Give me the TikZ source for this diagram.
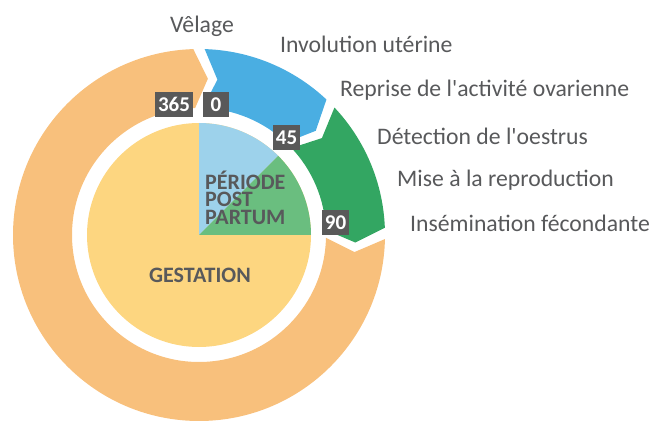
\documentclass[tikz,border=0pt]{standalone}
\usepackage{fontspec}
\setmainfont{Carlito}[Ligatures=TeXOff]
\definecolor{ringorange}{HTML}{F8C07C}
\definecolor{ringblue}{HTML}{4AAEE2}
\definecolor{ringgreen}{HTML}{33A662}
\definecolor{pieyellow}{HTML}{FDD680}
\definecolor{pieblue}{HTML}{9DD2EB}
\definecolor{piegreen}{HTML}{6ABE7F}
\definecolor{boxgray}{HTML}{595959}
\definecolor{txtgray}{HTML}{58595B}
\newcommand\ringseg[3]{%
  \fill[#1] ([shift={(C)}]#2:186) arc[start angle=#2, end angle=#3, radius=186]
    -- ([shift={(C)}]{#3-5}:156.5)
    -- ([shift={(C)}]#3:127) arc[start angle=#3, end angle=#2, radius=127]
    -- ([shift={(C)}]{#2-5}:156.5) -- cycle;}
\begin{document}
\begin{tikzpicture}[x=1pt,y=1pt,
  lbl/.style={text=txtgray, font=\fontsize{23.7}{24}\selectfont, inner sep=0pt},
  numbox/.style={fill=boxgray, text=white, font=\fontsize{21}{21}\selectfont\bfseries,
    inner xsep=3pt, inner ysep=0pt, minimum height=25pt, minimum width=26pt},
  inlbl/.style={text=txtgray, font=\fontsize{22}{17.5}\selectfont\bfseries, inner sep=0pt}]
\useasboundingbox (0,0) rectangle (654,421);
\coordinate (C) at (199,186);
% outer ring
\ringseg{ringblue}{88.25}{46.75}
\ringseg{ringgreen}{43.25}{2.25}
\ringseg{ringorange}{-1.25}{-268.25}
% inner pie
\fill[pieyellow] (C) circle[radius=112];
\fill[pieblue] (C) -- ([shift={(C)}]90:112) arc[start angle=90, end angle=45, radius=112] -- cycle;
\fill[piegreen] (C) -- ([shift={(C)}]45:112) arc[start angle=45, end angle=0, radius=112] -- cycle;
% labels
\node[lbl, anchor=base] (velage) at (202,388) {Vêlage};
\node[lbl, anchor=base west] (involution) at (280,368) {Involution utérine};
\node[lbl, anchor=base west] (reprise) at (340,324) {Reprise de l'activité ovarienne};
\node[lbl, anchor=base west] (detection) at (377,276) {Détection de l'oestrus};
\node[lbl, anchor=base west] (mise) at (397,234) {Mise à la reproduction};
\node[lbl, anchor=base west] (insemination) at (410,189) {Insémination fécondante};
% day boxes
\node[numbox] (d365) at (174,316.5) {365};
\node[numbox] (d0) at (216,316.5) {0};
\node[numbox] (d45) at (286.5,283.5) {45};
\node[numbox] (d90) at (335.5,198.5) {90};
% inner labels
\node[inlbl, align=left, anchor=north west] (post) at (205,250.5) {PÉRIODE\\POST\\PARTUM};
\node[inlbl, anchor=base] (gestation) at (200,139) {GESTATION};
\end{tikzpicture}
\end{document}
